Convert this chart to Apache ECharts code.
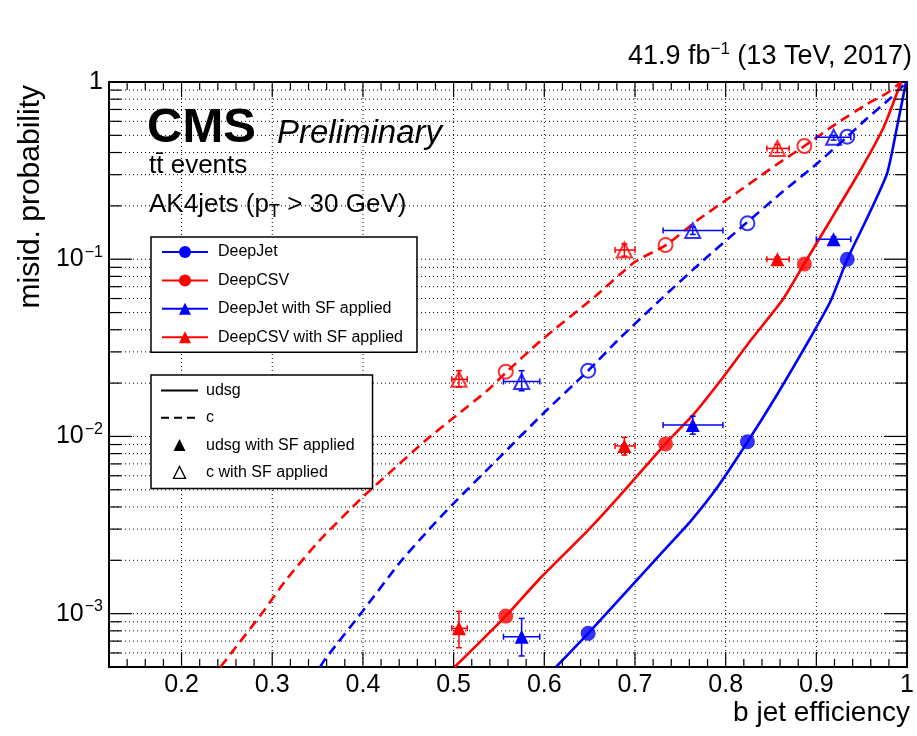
<!DOCTYPE html>
<html><head><meta charset="utf-8">
<script src="https://cdn.jsdelivr.net/npm/echarts@6/dist/echarts.min.js"></script>
<style>html,body{margin:0;padding:0;background:#fff}#c{width:917px;height:736px}</style>
</head><body><div id="c"></div>
<script>
// ---------- data ----------
const deepJetUdsgX = [0.6129, 0.6484, 0.6887, 0.7289, 0.7619, 0.7912, 0.8242, 0.8571, 0.8920, 0.9157, 0.9341, 0.9560, 0.9780, 0.9890, 0.9989];
const deepJetUdsgY = [5.0e-4, 7.74e-4, 1.302e-3, 2.189e-3, 3.353e-3, 5.2e-3, 9.33e-3, 0.01735, 0.035, 0.0581, 0.0999, 0.1708, 0.3053, 0.5596, 1.0];

const deepCsvUdsgX = [0.5011, 0.5575, 0.5970, 0.6484, 0.6887, 0.7333, 0.7656, 0.7948, 0.8278, 0.8626, 0.8865, 0.9157, 0.9487, 0.9744, 0.9934];
const deepCsvUdsgY = [5.0e-4, 9.69e-4, 1.615e-3, 2.963e-3, 4.983e-3, 9.06e-3, 0.0135, 0.0208, 0.035, 0.0588, 0.094, 0.1664, 0.3187, 0.5596, 1.0];

const deepJetCX = [0.3527, 0.3590, 0.3992, 0.4414, 0.4707, 0.4981, 0.5495, 0.6008, 0.6484, 0.6813, 0.7308, 0.7758, 0.8223, 0.8608, 0.9011, 0.9341, 0.9560, 0.9816, 0.9981];
const deepJetCY = [5.0e-4, 5.596e-4, 1.025e-3, 1.963e-3, 2.899e-3, 4.1e-3, 7.52e-3, 0.01378, 0.02349, 0.035, 0.06095, 0.099, 0.1595, 0.2354, 0.3477, 0.4913, 0.6239, 0.809, 0.983];

const deepCsvCX = [0.2429, 0.2546, 0.2893, 0.3151, 0.3516, 0.3992, 0.4286, 0.4689, 0.4981, 0.5385, 0.5571, 0.5970, 0.6557, 0.6997, 0.7341, 0.7692, 0.8132, 0.8571, 0.8868, 0.9231, 0.9560, 0.9780, 0.9923];
const deepCsvCY = [5.0e-4, 5.97e-4, 1.014e-3, 1.547e-3, 2.568e-3, 4.52e-3, 6.19e-3, 9.48e-3, 0.01253, 0.01839, 0.02279, 0.035, 0.0614, 0.0964, 0.1202, 0.1664, 0.2394, 0.3445, 0.4353, 0.587, 0.751, 0.867, 0.987];

// working points (circles)
const deepJetWpX = [0.6484, 0.8240, 0.9341];
const deepJetWpUdsgY = [7.74e-4, 9.33e-3, 0.0999];
const deepJetWpCY = [0.0235, 0.1595, 0.4913];
const deepCsvWpX = [0.5575, 0.7337, 0.8868];
const deepCsvWpUdsgY = [9.69e-4, 9.06e-3, 0.094];
const deepCsvWpCY = [0.0232, 0.1202, 0.4353];

// scale-factor applied points (triangles) with errors
const deepJetSfX = [0.575, 0.7637, 0.9190];
const deepJetSfXLo = [0.555, 0.731, 0.900];
const deepJetSfXHi = [0.595, 0.797, 0.938];
const deepJetSfUdsgY = [7.41e-4, 0.0116, 0.1295];
const deepJetSfUdsgYLo = [5.77e-4, 0.0103, 0.125];
const deepJetSfUdsgYHi = [9.4e-4, 0.0130, 0.134];
const deepJetSfCY = [0.0204, 0.145, 0.4876];
const deepJetSfCYLo = [0.0181, 0.138, 0.47];
const deepJetSfCYHi = [0.0235, 0.152, 0.50];

const deepCsvSfX = [0.5059, 0.6883, 0.857];
const deepCsvSfXLo = [0.498, 0.678, 0.8454];
const deepCsvSfXHi = [0.515, 0.700, 0.870];
const deepCsvSfUdsgY = [8.26e-4, 8.83e-3, 0.0999];
const deepCsvSfUdsgYLo = [6.42e-4, 7.85e-3, 0.097];
const deepCsvSfUdsgYHi = [1.03e-3, 9.88e-3, 0.103];
const deepCsvSfCY = [0.021, 0.1127, 0.422];
const deepCsvSfCYLo = [0.019, 0.104, 0.40];
const deepCsvSfCYHi = [0.0235, 0.122, 0.445];

// axis ticks
const xMajorTicks = [0.2, 0.3, 0.4, 0.5, 0.6, 0.7, 0.8, 0.9];
const xMinorTicks = [0.14, 0.16, 0.18, 0.22, 0.24, 0.26, 0.28, 0.32, 0.34, 0.36, 0.38, 0.42, 0.44, 0.46, 0.48,
  0.52, 0.54, 0.56, 0.58, 0.62, 0.64, 0.66, 0.68, 0.72, 0.74, 0.76, 0.78, 0.82, 0.84, 0.86, 0.88, 0.92, 0.94, 0.96, 0.98];
const yMajorTicks = [0.001, 0.01, 0.1];
const yMinorTicks = [6e-4, 7e-4, 8e-4, 9e-4, 2e-3, 3e-3, 4e-3, 5e-3, 6e-3, 7e-3, 8e-3, 9e-3,
  0.02, 0.03, 0.04, 0.05, 0.06, 0.07, 0.08, 0.09, 0.2, 0.3, 0.4, 0.5, 0.6, 0.7, 0.8, 0.9];
const X_MIN = 0.12, X_MAX = 1.0, Y_MIN = 0.0005, Y_MAX = 1.0;

// ---------- chart ----------
const FONT = '"Liberation Sans", Arial, Helvetica, sans-serif';
const BLUE = '#0000ff', RED = '#ff0000';
const zip = (xs, ys) => xs.map((x, i) => [x, ys[i]]);
const errRows = (x, y, xl, xh, yl, yh) => x.map((v, i) => [v, y[i], xl[i], xh[i], yl[i], yh[i]]);

function errRender(color) {
  return function (params, api) {
    const x = api.value(0), y = api.value(1);
    const pL = api.coord([api.value(2), y]), pR = api.coord([api.value(3), y]);
    const pB = api.coord([x, api.value(4)]), pT = api.coord([x, api.value(5)]);
    const c = 3, st = { stroke: color, lineWidth: 1.5 };
    const L = (x1, y1, x2, y2) => ({ type: 'line', shape: { x1, y1, x2, y2 }, style: st });
    return { type: 'group', children: [
      L(pL[0], pL[1], pR[0], pR[1]), L(pL[0], pL[1] - c, pL[0], pL[1] + c), L(pR[0], pR[1] - c, pR[0], pR[1] + c),
      L(pB[0], pB[1], pT[0], pT[1]), L(pB[0] - c, pB[1], pB[0] + c, pB[1]), L(pT[0] - c, pT[1], pT[0] + c, pT[1])
    ]};
  };
}
const dotted = { stroke: '#000', lineWidth: 1, lineDash: [1, 3] };
const solid = { stroke: '#000', lineWidth: 1.2 };

function xGridRender(params, api) {
  const v = api.value(0);
  const b = api.coord([v, Y_MIN]), t = api.coord([v, Y_MAX]);
  return { type: 'line', shape: { x1: b[0], y1: b[1], x2: t[0], y2: t[1] }, style: dotted };
}
function yGridRender(params, api) {
  const v = api.value(1);
  const l = api.coord([X_MIN, v]), r = api.coord([X_MAX, v]);
  return { type: 'line', shape: { x1: l[0], y1: l[1], x2: r[0], y2: r[1] }, style: dotted };
}
function xTickRender(len) {
  return function (params, api) {
    const v = api.value(0);
    const b = api.coord([v, Y_MIN]), t = api.coord([v, Y_MAX]);
    return { type: 'group', children: [
      { type: 'line', shape: { x1: b[0], y1: b[1], x2: b[0], y2: b[1] - len }, style: solid },
      { type: 'line', shape: { x1: t[0], y1: t[1], x2: t[0], y2: t[1] + len }, style: solid }
    ]};
  };
}
function yTickRender(len) {
  return function (params, api) {
    const v = api.value(1);
    const l = api.coord([X_MIN, v]), r = api.coord([X_MAX, v]);
    return { type: 'group', children: [
      { type: 'line', shape: { x1: l[0], y1: l[1], x2: l[0] + len, y2: l[1] }, style: solid },
      { type: 'line', shape: { x1: r[0], y1: r[1], x2: r[0] - len, y2: r[1] }, style: solid }
    ]};
  };
}

const chart = echarts.init(document.getElementById('c'), null, { renderer: 'canvas' });
const openStyle = (c) => ({ color: 'rgba(255,255,255,0)', borderColor: c, borderWidth: 2 });
const curve = { showSymbol: false, smooth: 0.2, z: 2 };

const option = {
  animation: false,
  backgroundColor: '#fff',
  grid: { left: 109, right: 6, top: 82, bottom: 69, show: true, borderColor: '#000', borderWidth: 2, backgroundColor: 'transparent' },
  xAxis: {
    type: 'value', min: X_MIN, max: X_MAX, interval: 0.02,
    axisLine: { show: false }, axisTick: { show: false }, splitLine: { show: false },
    axisLabel: {
      color: '#000', fontSize: 25, fontFamily: FONT, margin: 6, showMinLabel: true, showMaxLabel: true,
      formatter: (v) => {
        const t = v * 10;
        if (Math.abs(t - Math.round(t)) > 1e-6 || v < 0.15) return '';
        return Math.abs(v - 1) < 1e-6 ? '1' : v.toFixed(1);
      }
    }
  },
  yAxis: {
    type: 'log', logBase: 10, min: Y_MIN, max: Y_MAX,
    axisLine: { show: false }, axisTick: { show: false }, splitLine: { show: false }, minorTick: { show: false },
    axisLabel: {
      margin: 6,
      formatter: (v) => {
        const l = Math.log10(v), r = Math.round(l);
        if (Math.abs(l - r) > 1e-6) return '';
        if (r === 0) return '{b|1}';
        return '{b|10}{s|\u2212' + (-r) + '}';
      },
      rich: {
        b: { fontSize: 25, color: '#000', fontFamily: FONT, lineHeight: 30 },
        s: { fontSize: 16, color: '#000', fontFamily: FONT, verticalAlign: 'top', padding: [0, 0, 0, 1] }
      }
    }
  },
  legend: [
    {
      orient: 'vertical', left: 151, top: 237, padding: [7, 14, 7, 10],
      itemWidth: 46, itemHeight: 15, itemGap: 12.4,
      backgroundColor: '#fff', borderColor: '#000', borderWidth: 1.5, borderRadius: 0,
      selectedMode: false,
      textStyle: { fontSize: 16, color: '#000', fontFamily: FONT, padding: [0, 0, 0, 5] },
      data: [
        { name: 'DeepJet' }, { name: 'DeepCSV' },
        { name: 'DeepJet with SF applied', lineStyle: { width: 2 } },
        { name: 'DeepCSV with SF applied', lineStyle: { width: 2 } }
      ]
    },
    {
      orient: 'vertical', left: 151, top: 375, padding: [7.5, 18, 8, 9],
      itemWidth: 37, itemHeight: 15, itemGap: 11.3,
      backgroundColor: '#fff', borderColor: '#000', borderWidth: 1.5, borderRadius: 0,
      selectedMode: false,
      textStyle: { fontSize: 16, color: '#000', fontFamily: FONT, padding: [0, 0, 0, 3] },
      data: [
        { name: 'udsg', itemStyle: { opacity: 0 } },
        { name: 'c', itemStyle: { opacity: 0 } },
        { name: 'udsg with SF applied' },
        { name: 'c with SF applied', itemStyle: { borderWidth: 1.3 } }
      ]
    }
  ],
  graphic: [
    { type: 'text', x: 147, y: 128, style: { text: 'CMS', fill: '#000', fontSize: 49, fontWeight: 'bold', fontFamily: FONT, verticalAlign: 'middle' } },
    { type: 'text', x: 277, y: 134, style: { text: 'Preliminary', fill: '#000', fontSize: 33, fontStyle: 'italic', fontFamily: FONT, verticalAlign: 'middle' } },
    { type: 'text', x: 149, y: 166, style: { text: 'tt\u0304 events', fill: '#000', fontSize: 26, fontFamily: FONT, verticalAlign: 'middle' } },
    { type: 'text', x: 149, y: 205, style: {
        text: '{n|AK4jets (p}{sub|T}{n| > 30 GeV)}', verticalAlign: 'middle',
        rich: { n: { fontSize: 26, fill: '#000', fontFamily: FONT, lineHeight: 32 },
                sub: { fontSize: 18, fill: '#000', fontFamily: FONT, verticalAlign: 'bottom', padding: [13, 0, 0, 0] } } } },
    { type: 'text', x: 912, y: 57, style: {
        text: '{a|41.9 fb}{s|\u22121}{a| (13 TeV, 2017)}', align: 'right', verticalAlign: 'middle',
        rich: { a: { fontSize: 27, fill: '#000', fontFamily: FONT, lineHeight: 32 },
                s: { fontSize: 17, fill: '#000', fontFamily: FONT, verticalAlign: 'top' } } } },
    { type: 'text', x: 31, y: 85, rotation: Math.PI / 2, style: { text: 'misid. probability', fill: '#000', fontSize: 30, fontFamily: FONT, align: 'right', verticalAlign: 'middle' } },
    { type: 'text', x: 910, y: 713, style: { text: 'b jet efficiency', fill: '#000', fontSize: 28, fontFamily: FONT, align: 'right', verticalAlign: 'middle' } }
  ],
  series: [
    // grid lines & ticks
    { name: 'xgrid', type: 'custom', silent: true, z: 1, renderItem: xGridRender, data: xMajorTicks.map(v => [v, 0.5]) },
    { name: 'ygrid', type: 'custom', silent: true, z: 1, renderItem: yGridRender, data: yMajorTicks.concat(yMinorTicks).map(v => [0.5, v]) },
    { name: 'xmaj', type: 'custom', silent: true, z: 6, renderItem: xTickRender(15), data: xMajorTicks.map(v => [v, 0.5]) },
    { name: 'xmin', type: 'custom', silent: true, z: 6, renderItem: xTickRender(8), data: xMinorTicks.map(v => [v, 0.5]) },
    { name: 'ymaj', type: 'custom', silent: true, z: 6, renderItem: yTickRender(23), data: yMajorTicks.map(v => [0.5, v]) },
    { name: 'ymin', type: 'custom', silent: true, z: 6, renderItem: yTickRender(12), data: yMinorTicks.map(v => [0.5, v]) },

    // ROC curves
    Object.assign({ name: 'DeepJet c', type: 'line', data: zip(deepJetCX, deepJetCY), symbol: 'none',
      lineStyle: { color: BLUE, width: 2.6, type: [10, 6] }, itemStyle: { color: BLUE } }, curve),
    Object.assign({ name: 'DeepCSV c', type: 'line', data: zip(deepCsvCX, deepCsvCY), symbol: 'none',
      lineStyle: { color: RED, width: 2.6, type: [10, 6] }, itemStyle: { color: RED } }, curve),
    Object.assign({ name: 'DeepJet', type: 'line', data: zip(deepJetUdsgX, deepJetUdsgY), symbol: 'circle',
      lineStyle: { color: BLUE, width: 2.6 }, itemStyle: { color: BLUE } }, curve),
    Object.assign({ name: 'DeepCSV', type: 'line', data: zip(deepCsvUdsgX, deepCsvUdsgY), symbol: 'circle',
      lineStyle: { color: RED, width: 2.6 }, itemStyle: { color: RED } }, curve),

    // error bars
    { name: 'DeepJet SF err', type: 'custom', silent: true, z: 3, renderItem: errRender(BLUE), encode: { x: 0, y: 1 },
      data: errRows(deepJetSfX, deepJetSfUdsgY, deepJetSfXLo, deepJetSfXHi, deepJetSfUdsgYLo, deepJetSfUdsgYHi)
        .concat(errRows(deepJetSfX, deepJetSfCY, deepJetSfXLo, deepJetSfXHi, deepJetSfCYLo, deepJetSfCYHi)) },
    { name: 'DeepCSV SF err', type: 'custom', silent: true, z: 3, renderItem: errRender(RED), encode: { x: 0, y: 1 },
      data: errRows(deepCsvSfX, deepCsvSfUdsgY, deepCsvSfXLo, deepCsvSfXHi, deepCsvSfUdsgYLo, deepCsvSfUdsgYHi)
        .concat(errRows(deepCsvSfX, deepCsvSfCY, deepCsvSfXLo, deepCsvSfXHi, deepCsvSfCYLo, deepCsvSfCYHi)) },

    // SF markers
    { name: 'DeepJet with SF applied', type: 'line', data: zip(deepJetSfX, deepJetSfUdsgY), symbol: 'triangle', symbolSize: 14, showSymbol: true, z: 4,
      lineStyle: { color: BLUE, width: 0 }, itemStyle: { color: BLUE } },
    { name: 'DeepCSV with SF applied', type: 'line', data: zip(deepCsvSfX, deepCsvSfUdsgY), symbol: 'triangle', symbolSize: 14, showSymbol: true, z: 4,
      lineStyle: { color: RED, width: 0 }, itemStyle: { color: RED } },
    { name: 'DeepJet c SF', type: 'scatter', data: zip(deepJetSfX, deepJetSfCY), symbol: 'triangle', symbolSize: 15, z: 4, itemStyle: openStyle(BLUE) },
    { name: 'DeepCSV c SF', type: 'scatter', data: zip(deepCsvSfX, deepCsvSfCY), symbol: 'triangle', symbolSize: 15, z: 4, itemStyle: openStyle(RED) },

    // working points
    { name: 'DeepJet WP', type: 'scatter', data: zip(deepJetWpX, deepJetWpUdsgY), symbol: 'circle', symbolSize: 15, z: 4, itemStyle: { color: BLUE } },
    { name: 'DeepCSV WP', type: 'scatter', data: zip(deepCsvWpX, deepCsvWpUdsgY), symbol: 'circle', symbolSize: 15, z: 4, itemStyle: { color: RED } },
    { name: 'DeepJet c WP', type: 'scatter', data: zip(deepJetWpX, deepJetWpCY), symbol: 'circle', symbolSize: 14, z: 4, itemStyle: openStyle(BLUE) },
    { name: 'DeepCSV c WP', type: 'scatter', data: zip(deepCsvWpX, deepCsvWpCY), symbol: 'circle', symbolSize: 14, z: 4, itemStyle: openStyle(RED) },

    // legend-only entries
    { name: 'udsg', type: 'line', data: [], symbol: 'none', lineStyle: { color: '#000', width: 2.5 }, itemStyle: { color: '#000' } },
    { name: 'c', type: 'line', data: [], symbol: 'none', lineStyle: { color: '#000', width: 2.5, type: [8, 5] }, itemStyle: { color: '#000' } },
    { name: 'udsg with SF applied', type: 'line', data: [], symbol: 'triangle', lineStyle: { color: '#000', width: 0 }, itemStyle: { color: '#000' } },
    { name: 'c with SF applied', type: 'line', data: [], symbol: 'triangle', lineStyle: { color: '#000', width: 0 },
      itemStyle: { color: 'rgba(255,255,255,0)', borderColor: '#000', borderWidth: 1.3 } }
  ]
};
chart.setOption(option);
</script></body></html>
